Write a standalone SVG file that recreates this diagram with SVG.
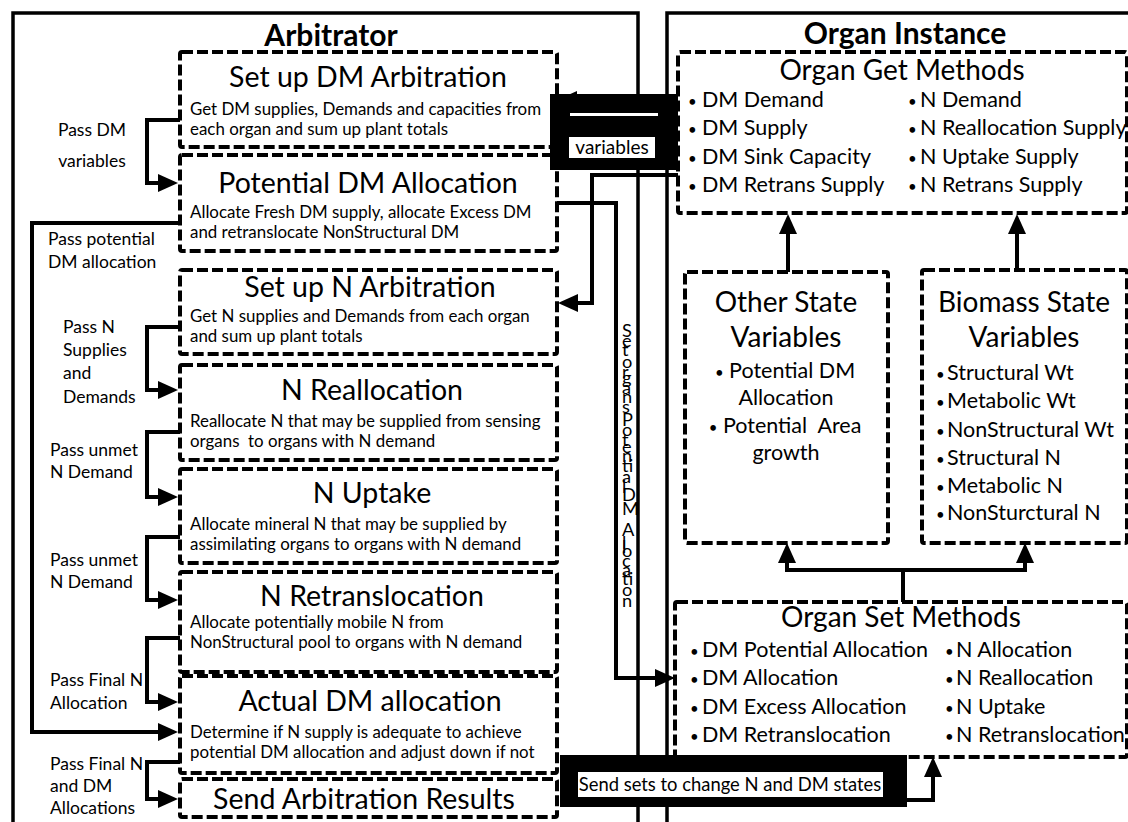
<svg xmlns="http://www.w3.org/2000/svg" width="1128" height="822" viewBox="0 0 1128 822">
<style>
text{font-family:Lato,"Open Sans","Liberation Sans",sans-serif;fill:#000}
.h{font-size:30px;font-weight:bold;text-anchor:middle}
.lt{font-size:28.5px;text-anchor:middle}
.rt{font-size:28px;text-anchor:middle}
.sub{font-size:16.9px}
.it{font-size:21.5px}
.itc{font-size:21.5px;text-anchor:middle}
.b{font-size:15px}
.ann{font-size:17.5px}
.frame{fill:none;stroke:#000;stroke-width:3.5}
.box{fill:#fff;stroke:#000;stroke-width:4;stroke-dasharray:11 4}
.con{fill:none;stroke:#000;stroke-width:4;marker-end:url(#ah)}
.vt{font-size:18.2px}
.lbl{font-size:19px}
.lbl2{font-size:18.4px}
</style>
<defs>
<marker id="ah" markerUnits="userSpaceOnUse" markerWidth="20" markerHeight="20" refX="10" refY="9" orient="auto">
<path d="M0,0 L20,9 L0,18 Z" fill="#000"/>
</marker>
</defs>
<rect width="1128" height="822" fill="#fff"/>
<g id="arbitrator">
<rect class="frame" x="13" y="13" width="625" height="830"/>
<text class="h" x="331" y="46">Arbitrator</text>
</g>
<g id="organ-instance">
<rect class="frame" x="667" y="13" width="480" height="830"/>
<text class="h" x="905" y="44">Organ Instance</text>
</g>
<g id="connectors">
<path class="con" d="M180,120 H147 V183 H168"/>
<path class="con" d="M178,223 H32 V732 H168"/>
<path class="con" d="M180,327 H147 V390 H168"/>
<path class="con" d="M180,432 H147 V497 H168"/>
<path class="con" d="M180,537 H147 V600 H168"/>
<path class="con" d="M180,638 H147 V702 H168"/>
<path class="con" d="M180,762 H147 V799 H168"/>
<path class="con" d="M557,203 H616 V678 H665"/>
<path class="con" d="M678,175 H592 V303 H568"/>
<path class="con" d="M678,100 H567"/>
<path class="con" d="M788,272 V224"/>
<path class="con" d="M1017,270 V224"/>
<path class="con" d="M903,602 V570 H787 V553"/>
<path class="con" d="M903,570 H1025 V553"/>
<path class="con" d="M907,800 H933 V767"/>
<text class="vt" transform="translate(622,337) rotate(90)" rotate="-90">Set organs Potential DM Allocation</text>
</g>
<g id="setup-dm">
<rect class="box" x="180" y="52" width="377" height="95" rx="2"/>
<text class="lt" x="368" y="87">Set up DM Arbitration</text>
<text class="sub" x="190" y="115">Get DM supplies, Demands and capacities from</text>
<text class="sub" x="190" y="135">each organ and sum up plant totals</text>
</g>
<g id="potential-dm">
<rect class="box" x="180" y="155" width="377" height="96" rx="2"/>
<text class="lt" x="368" y="193">Potential DM Allocation</text>
<text class="sub" x="190" y="218">Allocate Fresh DM supply, allocate Excess DM</text>
<text class="sub" x="190" y="238">and retranslocate NonStructural DM</text>
</g>
<g id="setup-n">
<rect class="box" x="180" y="270" width="377" height="84" rx="2"/>
<text class="lt" x="370" y="297">Set up N Arbitration</text>
<text class="sub" x="190" y="322">Get N supplies and Demands from each organ</text>
<text class="sub" x="190" y="342">and sum up plant totals</text>
</g>
<g id="n-reallocation">
<rect class="box" x="180" y="365" width="377" height="95" rx="2"/>
<text class="lt" x="372" y="400">N Reallocation</text>
<text class="sub" x="190" y="427">Reallocate N that may be supplied from sensing</text>
<text class="sub" x="190" y="447" xml:space="preserve">organs  to organs with N demand</text>
</g>
<g id="n-uptake">
<rect class="box" x="180" y="469" width="377" height="94" rx="2"/>
<text class="lt" x="372" y="503">N Uptake</text>
<text class="sub" x="190" y="530">Allocate mineral N that may be supplied by</text>
<text class="sub" x="190" y="550">assimilating organs to organs with N demand</text>
</g>
<g id="n-retrans">
<rect class="box" x="180" y="572" width="377" height="100" rx="2"/>
<text class="lt" x="372" y="606">N Retranslocation</text>
<text class="sub" x="190" y="628">Allocate potentially mobile N from</text>
<text class="sub" x="190" y="648">NonStructural pool to organs with N demand</text>
</g>
<g id="actual-dm">
<rect class="box" x="180" y="676" width="377" height="97" rx="2"/>
<text class="lt" x="370" y="711">Actual DM allocation</text>
<text class="sub" x="190" y="738">Determine if N supply is adequate to achieve</text>
<text class="sub" x="190" y="758">potential DM allocation and adjust down if not</text>
</g>
<g id="send-results">
<rect class="box" x="180" y="779" width="377" height="38" rx="2"/>
<text class="lt" x="364" y="809">Send Arbitration Results</text>
</g>
<g id="annotations">
<text class="ann" x="92" y="136" text-anchor="middle">Pass DM</text>
<text class="ann" x="92" y="167" text-anchor="middle">variables</text>
<text class="ann" x="48" y="245">Pass potential</text>
<text class="ann" x="48" y="268">DM allocation</text>
<text class="ann" x="63" y="333">Pass N</text>
<text class="ann" x="63" y="356">Supplies</text>
<text class="ann" x="63" y="379">and</text>
<text class="ann" x="63" y="403">Demands</text>
<text class="ann" x="50" y="456">Pass unmet</text>
<text class="ann" x="50" y="478">N Demand</text>
<text class="ann" x="50" y="566">Pass unmet</text>
<text class="ann" x="50" y="588">N Demand</text>
<text class="ann" x="50" y="686">Pass Final N</text>
<text class="ann" x="50" y="709">Allocation</text>
<text class="ann" x="50" y="770">Pass Final N</text>
<text class="ann" x="50" y="792">and DM</text>
<text class="ann" x="50" y="814">Allocations</text>
</g>
<g id="organ-get">
<rect class="box" x="678" y="52" width="449" height="161" rx="2"/>
<text class="rt" x="902" y="80">Organ Get Methods</text>
<text class="it"><tspan class="b" x="688" y="107">•</tspan><tspan x="702" y="107">DM Demand</tspan></text>
<text class="it"><tspan class="b" x="688" y="135">•</tspan><tspan x="702" y="135">DM Supply</tspan></text>
<text class="it"><tspan class="b" x="688" y="164">•</tspan><tspan x="702" y="164">DM Sink Capacity</tspan></text>
<text class="it"><tspan class="b" x="688" y="192">•</tspan><tspan x="702" y="192">DM Retrans Supply</tspan></text>
<text class="it"><tspan class="b" x="908" y="107">•</tspan><tspan x="920" y="107">N Demand</tspan></text>
<text class="it"><tspan class="b" x="908" y="135">•</tspan><tspan x="920" y="135">N Reallocation Supply</tspan></text>
<text class="it"><tspan class="b" x="908" y="164">•</tspan><tspan x="920" y="164">N Uptake Supply</tspan></text>
<text class="it"><tspan class="b" x="908" y="192">•</tspan><tspan x="920" y="192">N Retrans Supply</tspan></text>
</g>
<g id="other-state">
<rect class="box" x="685" y="272" width="203" height="271" rx="2"/>
<text class="rt" x="786" y="312">Other State</text>
<text class="rt" x="786" y="347">Variables</text>
<text class="itc" x="785" y="378"><tspan class="b">•</tspan> Potential DM</text>
<text class="itc" x="786" y="405">Allocation</text>
<text class="itc" x="785" y="433" xml:space="preserve"><tspan class="b">•</tspan> Potential  Area</text>
<text class="itc" x="786" y="460">growth</text>
</g>
<g id="biomass-state">
<rect class="box" x="922" y="270" width="205" height="273" rx="2"/>
<text class="rt" x="1024" y="312">Biomass State</text>
<text class="rt" x="1024" y="347">Variables</text>
<text class="it"><tspan class="b" x="936" y="380">•</tspan><tspan x="947" y="380">Structural Wt</tspan></text>
<text class="it"><tspan class="b" x="936" y="408">•</tspan><tspan x="947" y="408">Metabolic Wt</tspan></text>
<text class="it"><tspan class="b" x="936" y="437">•</tspan><tspan x="947" y="437">NonStructural Wt</tspan></text>
<text class="it"><tspan class="b" x="936" y="465">•</tspan><tspan x="947" y="465">Structural N</tspan></text>
<text class="it"><tspan class="b" x="936" y="493">•</tspan><tspan x="947" y="493">Metabolic N</tspan></text>
<text class="it"><tspan class="b" x="936" y="520">•</tspan><tspan x="947" y="520">NonSturctural N</tspan></text>
</g>
<g id="organ-set">
<rect class="box" x="675" y="602" width="452" height="155" rx="2"/>
<text class="rt" x="901" y="627">Organ Set Methods</text>
<text class="it"><tspan class="b" x="690" y="657">•</tspan><tspan x="702" y="657">DM Potential Allocation</tspan></text>
<text class="it"><tspan class="b" x="690" y="685">•</tspan><tspan x="702" y="685">DM Allocation</tspan></text>
<text class="it"><tspan class="b" x="690" y="714">•</tspan><tspan x="702" y="714">DM Excess Allocation</tspan></text>
<text class="it"><tspan class="b" x="690" y="742">•</tspan><tspan x="702" y="742">DM Retranslocation</tspan></text>
<text class="it"><tspan class="b" x="945" y="657">•</tspan><tspan x="956" y="657">N Allocation</tspan></text>
<text class="it"><tspan class="b" x="945" y="685">•</tspan><tspan x="956" y="685">N Reallocation</tspan></text>
<text class="it"><tspan class="b" x="945" y="714">•</tspan><tspan x="956" y="714">N Uptake</tspan></text>
<text class="it"><tspan class="b" x="945" y="742">•</tspan><tspan x="956" y="742">N Retranslocation</tspan></text>
</g>
<g id="dm-label">
<rect x="550" y="94" width="128" height="76" fill="#000"/>
<rect x="570" y="113" width="88" height="3" fill="#fff"/>
<rect x="569" y="137" width="86" height="21" fill="#fff"/>
<text class="lbl" x="612" y="154" text-anchor="middle">variables</text>
</g>
<g id="sets-label">
<rect x="560" y="755" width="347" height="52" fill="#000"/>
<rect x="578" y="772" width="305" height="25" fill="#fff"/>
<text class="lbl2" x="730" y="791" text-anchor="middle">Send sets to change N and DM states</text>
</g>
</svg>
